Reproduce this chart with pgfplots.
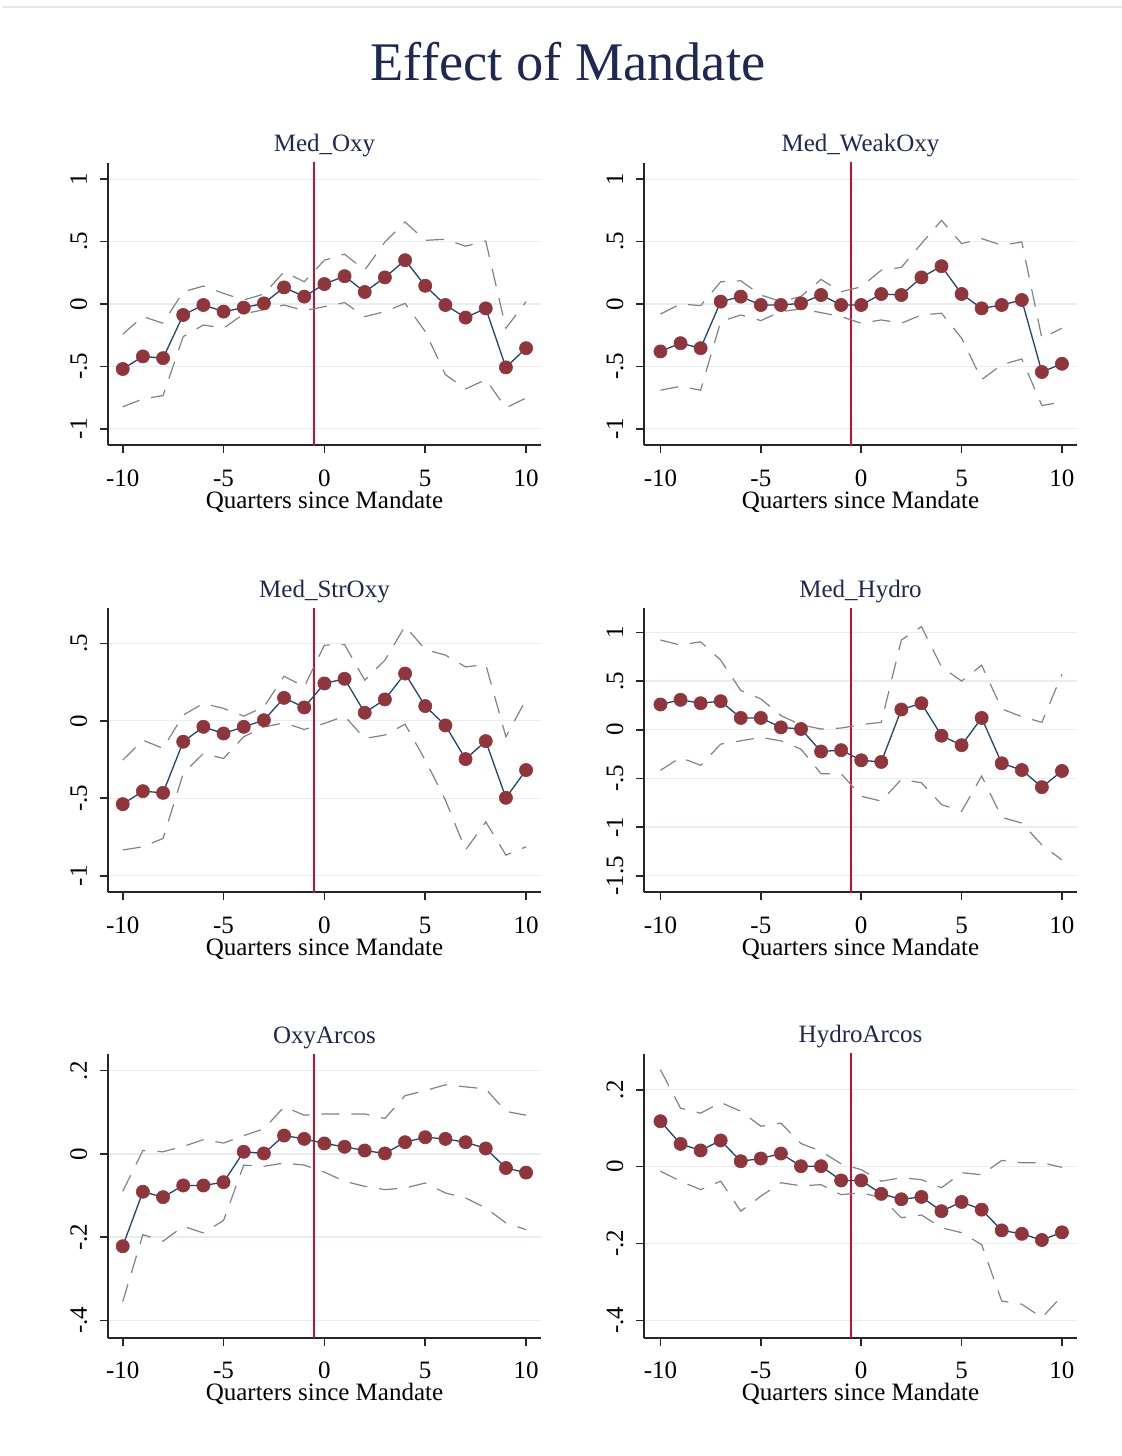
\documentclass[border=0pt]{standalone}
\usepackage{fontspec}
\setmainfont{Liberation Serif}
\usepackage{pgfplots}
\pgfplotsset{compat=1.18}
\usepackage{pgfplotstable}

\definecolor{navyS}{RGB}{26,71,111}
\definecolor{maroonS}{RGB}{144,53,59}
\definecolor{ciS}{RGB}{130,130,130}
\definecolor{vlineS}{RGB}{200,16,46}
\definecolor{gridS}{RGB}{230,238,240}
\definecolor{titS}{RGB}{30,40,85}
\definecolor{topS}{RGB}{226,233,231}

\pgfplotstableread{
x c u l
-10 -0.521 -0.242 -0.824
-9 -0.420 -0.101 -0.761
-8 -0.434 -0.154 -0.734
-7 -0.088 0.098 -0.261
-6 -0.008 0.144 -0.168
-5 -0.061 0.085 -0.194
-4 -0.029 0.032 -0.080
-3 0.005 0.080 -0.045
-2 0.133 0.258 -0.008
-1 0.059 0.178 -0.053
0 0.160 0.351 -0.021
1 0.223 0.399 0.011
2 0.096 0.271 -0.101
3 0.213 0.497 -0.061
4 0.351 0.657 0.005
5 0.146 0.510 -0.221
6 -0.008 0.519 -0.566
7 -0.109 0.463 -0.681
8 -0.035 0.505 -0.606
9 -0.508 -0.194 -0.832
10 -0.354 0.019 -0.753
}\dataA

\pgfplotstableread{
x c u l
-10 -0.380 -0.080 -0.691
-9 -0.314 0.000 -0.660
-8 -0.354 -0.013 -0.691
-7 0.019 0.178 -0.141
-6 0.059 0.186 -0.088
-5 -0.008 0.072 -0.133
-4 -0.008 0.020 -0.061
-3 0.005 0.060 -0.040
-2 0.072 0.197 -0.069
-1 -0.008 0.098 -0.101
0 -0.008 0.138 -0.154
1 0.080 0.271 -0.128
2 0.072 0.293 -0.154
3 0.213 0.484 -0.088
4 0.303 0.670 -0.074
5 0.080 0.484 -0.274
6 -0.035 0.524 -0.606
7 -0.008 0.471 -0.487
8 0.032 0.497 -0.441
9 -0.545 -0.274 -0.814
10 -0.479 -0.194 -0.785
}\dataB

\pgfplotstableread{
x c u l
-10 -0.538 -0.254 -0.834
-9 -0.454 -0.125 -0.813
-8 -0.465 -0.178 -0.759
-7 -0.135 0.037 -0.340
-6 -0.039 0.112 -0.211
-5 -0.082 0.080 -0.243
-4 -0.039 0.030 -0.103
-3 0.004 0.090 -0.040
-2 0.148 0.288 -0.013
-1 0.086 0.219 -0.056
0 0.241 0.488 -0.017
1 0.271 0.492 0.030
2 0.052 0.262 -0.114
3 0.138 0.391 -0.092
4 0.305 0.611 -0.022
5 0.095 0.460 -0.254
6 -0.030 0.424 -0.512
7 -0.247 0.348 -0.834
8 -0.131 0.363 -0.652
9 -0.497 -0.103 -0.867
10 -0.318 0.138 -0.813
}\dataC

\pgfplotstableread{
x c u l
-10 0.259 0.921 -0.417
-9 0.307 0.869 -0.286
-8 0.272 0.903 -0.366
-7 0.293 0.714 -0.148
-6 0.121 0.403 -0.114
-5 0.121 0.317 -0.079
-4 0.024 0.145 -0.114
-3 0.007 0.050 -0.200
-2 -0.224 0.007 -0.452
-1 -0.210 0.017 -0.452
0 -0.314 0.052 -0.683
1 -0.331 0.076 -0.734
2 0.207 0.921 -0.510
3 0.272 1.059 -0.545
4 -0.062 0.645 -0.769
5 -0.159 0.500 -0.838
6 0.121 0.662 -0.476
7 -0.345 0.214 -0.900
8 -0.414 0.134 -0.959
9 -0.590 0.076 -1.183
10 -0.424 0.569 -1.338
}\dataD

\pgfplotstableread{
x c u l
-10 -0.222 -0.090 -0.355
-9 -0.091 0.008 -0.194
-8 -0.104 0.005 -0.210
-7 -0.076 0.018 -0.174
-6 -0.076 0.034 -0.190
-5 -0.068 0.026 -0.160
-4 0.005 0.044 -0.027
-3 0.001 0.060 -0.030
-2 0.044 0.113 -0.022
-1 0.036 0.093 -0.027
0 0.025 0.096 -0.044
1 0.017 0.096 -0.066
2 0.008 0.096 -0.078
3 0.001 0.085 -0.086
4 0.028 0.140 -0.082
5 0.040 0.152 -0.070
6 0.036 0.166 -0.094
7 0.028 0.161 -0.106
8 0.013 0.156 -0.130
9 -0.034 0.102 -0.166
10 -0.045 0.093 -0.182
}\dataE

\pgfplotstableread{
x c u l
-10 0.118 0.252 -0.012
-9 0.059 0.152 -0.038
-8 0.042 0.139 -0.060
-7 0.068 0.167 -0.038
-6 0.014 0.144 -0.116
-5 0.021 0.105 -0.077
-4 0.034 0.113 -0.042
-3 0.001 0.060 -0.050
-2 0.001 0.040 -0.047
-1 -0.036 0.007 -0.073
0 -0.036 -0.008 -0.068
1 -0.071 -0.038 -0.081
2 -0.085 -0.029 -0.133
3 -0.079 -0.034 -0.126
4 -0.116 -0.055 -0.159
5 -0.092 -0.016 -0.172
6 -0.112 -0.021 -0.203
7 -0.166 0.016 -0.350
8 -0.175 0.010 -0.358
9 -0.191 0.010 -0.393
10 -0.171 -0.002 -0.337
}\dataF

\newcommand{\lblfont}{\fontsize{12.5}{15}\selectfont}

\pgfplotsset{
  panel/.style={
    scale only axis, width=216.5pt,
    axis x line*=bottom, axis y line*=left,
    axis line style={-, line width=0.8pt, draw=black!85},
    tick align=outside, major tick length=4pt,
    tick style={line width=0.8pt, draw=black!85},
    xtick={-10,-5,0,5,10}, xticklabels={-10,-5,0,5,10},
    ymajorgrids, major grid style={line width=0.7pt, draw=gridS},
    ticklabel style={font=\lblfont, inner sep=0pt, text=black},
    xticklabel style={anchor=base, yshift=-16.5pt},
    yticklabel style={xshift=-6.5pt, rotate=90, anchor=base},
    xlabel={Quarters since Mandate},
    xlabel style={at={(axis description cs:0.5,0)}, anchor=base, yshift=-31.5pt, font=\lblfont, inner sep=0pt},
    title style={at={(axis description cs:0.5,1)}, anchor=base, yshift=-0.5pt, font=\lblfont, text=titS, inner sep=0pt},
    clip=true,
  },
  leftcol/.style={xmin=-10.73, xmax=10.74},
  rightcol/.style={xmin=-10.82, xmax=10.75},
  vl/.style={color=vlineS, draw=vlineS, line width=1pt, forget plot},
  ci/.style={draw=ciS, line width=0.6pt, dash pattern=on 9pt off 6pt, no markers},
  coef/.style={draw=navyS, line width=0.65pt, mark=*, mark size=3.3pt, mark options={solid, fill=maroonS, draw=maroonS, line width=0.3pt}},
}

\begin{document}
\begin{tikzpicture}
\path[use as bounding box] (0,0) rectangle (561pt,-728pt);
\draw[topS, line width=1pt] (1.5pt,-3.5pt) -- (561pt,-3.5pt);
\node[anchor=base, font=\fontsize{27.2}{32}\selectfont, text=titS, inner sep=0pt] at (284pt,-40pt) {Effect of Mandate};

% Row 1
\begin{axis}[panel, leftcol, at={(54pt,-222.5pt)}, anchor=south west, height=141pt,
  ymin=-1.13, ymax=1.13, ytick={-1,-0.5,0,0.5,1}, yticklabels={-1,-.5,0,.5,1},
  title={Med\_Oxy}]
\addplot[vl] coordinates {(-0.5,-5) (-0.5,5)};
\addplot[ci] table[x=x,y=u]{\dataA};
\addplot[ci] table[x=x,y=l]{\dataA};
\addplot[coef] table[x=x,y=c]{\dataA};
\end{axis}

\begin{axis}[panel, rightcol, at={(322pt,-222.5pt)}, anchor=south west, height=141pt,
  ymin=-1.13, ymax=1.13, ytick={-1,-0.5,0,0.5,1}, yticklabels={-1,-.5,0,.5,1},
  title={Med\_WeakOxy}]
\addplot[vl] coordinates {(-0.5,-5) (-0.5,5)};
\addplot[ci] table[x=x,y=u]{\dataB};
\addplot[ci] table[x=x,y=l]{\dataB};
\addplot[coef] table[x=x,y=c]{\dataB};
\end{axis}

% Row 2
\begin{axis}[panel, leftcol, at={(54pt,-446pt)}, anchor=south west, height=142pt,
  ymin=-1.105, ymax=0.728, ytick={-1,-0.5,0,0.5}, yticklabels={-1,-.5,0,.5},
  title={Med\_StrOxy}]
\addplot[vl] coordinates {(-0.5,-5) (-0.5,5)};
\addplot[ci] table[x=x,y=u]{\dataC};
\addplot[ci] table[x=x,y=l]{\dataC};
\addplot[coef] table[x=x,y=c]{\dataC};
\end{axis}

\begin{axis}[panel, rightcol, at={(322pt,-446pt)}, anchor=south west, height=142pt,
  ymin=-1.667, ymax=1.25, ytick={-1.5,-1,-0.5,0,0.5,1}, yticklabels={-1.5,-1,-.5,0,.5,1},
  title={Med\_Hydro}]
\addplot[vl] coordinates {(-0.5,-5) (-0.5,5)};
\addplot[ci] table[x=x,y=u]{\dataD};
\addplot[ci] table[x=x,y=l]{\dataD};
\addplot[coef] table[x=x,y=c]{\dataD};
\end{axis}

% Row 3
\begin{axis}[panel, leftcol, at={(54pt,-669pt)}, anchor=south west, height=142pt,
  ymin=-0.4425, ymax=0.24, ytick={-0.4,-0.2,0,0.2}, yticklabels={-.4,-.2,0,.2},
  title={OxyArcos}]
\addplot[vl] coordinates {(-0.5,-5) (-0.5,5)};
\addplot[ci] table[x=x,y=u]{\dataE};
\addplot[ci] table[x=x,y=l]{\dataE};
\addplot[coef] table[x=x,y=c]{\dataE};
\end{axis}

\begin{axis}[panel, rightcol, at={(322pt,-669pt)}, anchor=south west, height=142pt,
  ymin=-0.446, ymax=0.293, ytick={-0.4,-0.2,0,0.2}, yticklabels={-.4,-.2,0,.2},
  title={HydroArcos}]
\addplot[vl] coordinates {(-0.5,-5) (-0.5,5)};
\addplot[ci] table[x=x,y=u]{\dataF};
\addplot[ci] table[x=x,y=l]{\dataF};
\addplot[coef] table[x=x,y=c]{\dataF};
\end{axis}
\end{tikzpicture}
\end{document}
